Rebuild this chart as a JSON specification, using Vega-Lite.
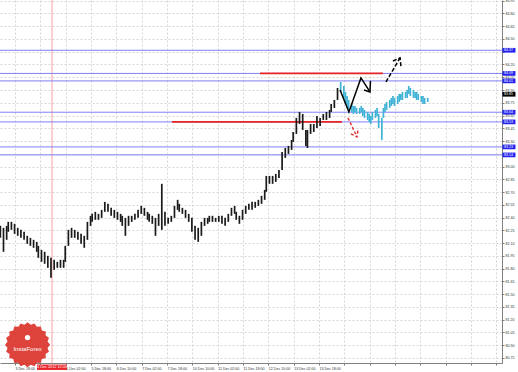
{
  "$schema": "https://vega.github.io/schema/vega-lite/v6.json",
  "width": 502,
  "height": 363,
  "autosize": {"type": "none"},
  "padding": {"left": 0, "top": 0, "right": 16, "bottom": 9},
  "background": "#ffffff",
  "config": {"view": {"stroke": null}, "font": "Liberation Sans"},
  "layer": [
    {
      "data": {"values": [{"b": 34.64}]},
      "mark": {"type": "rule", "color": "#f4a0a0", "strokeWidth": 1},
      "encoding": {
        "x": {"field": "b", "type": "quantitative",
          "scale": {"domain": [1.79, 318.9], "nice": false, "zero": false},
          "axis": {"title": null, "tickCount": 100,
            "values": [11.28,27.28,43.28,59.28,75.28,91.28,107.28,123.28,139.28,155.28,171.28,187.28,203.28,219.28,235.28,251.28,267.28,283.28,299.28,315.28],
            "labelExpr": "['','3 Dec 18:00','','5 Dec 02:00','5 Dec 18:00','6 Dec 10:00','7 Dec 02:00','7 Dec 18:00','10 Dec 10:00','11 Dec 02:00','11 Dec 18:00','12 Dec 10:00','13 Dec 02:00','13 Dec 18:00','','','','','','','',''][round((datum.value+4.72)/16)]",
            "labelAlign": "left", "labelBaseline": "top", "labelPadding": 1, "labelFontSize": 3.6, "labelColor": "#333",
            "tickSize": 2, "tickColor": "#777", "domainColor": "#808080",
            "grid": true, "gridColor": "#d6d6d6", "gridDash": [2, 2],
            "labelOverlap": false, "labelFlush": false, "labelBound": false}}
      }
    },
    {
      "data": {"values": [{"p": 84.367}, {"p": 84.095}, {"p": 84.007}, {"p": 83.639}, {"p": 83.525}, {"p": 83.231}, {"p": 83.137}]},
      "mark": {"type": "rule", "color": "#8080f6", "strokeWidth": 1},
      "encoding": {
        "y": {"field": "p", "type": "quantitative",
          "scale": {"domain": [80.691, 84.958], "nice": false, "zero": false},
          "axis": {"title": null, "orient": "right", "tickCount": 100,
            "values": [80.75,80.9,81.05,81.2,81.35,81.5,81.65,81.8,81.95,82.1,82.25,82.4,82.55,82.7,82.85,83.0,83.15,83.3,83.45,83.6,83.75,83.9,84.05,84.2,84.35,84.5,84.65,84.8,84.95],
            "labelExpr": "datum.value == 84.35 || datum.value == 83.15 ? '' : format(datum.value, '.2f')",
            "labelAlign": "left", "labelBaseline": "middle", "labelPadding": 1,
            "labelFontSize": 3.6, "labelColor": "#333", "tickSize": 2, "tickColor": "#777", "domainColor": "#808080",
            "grid": true, "gridColor": "#d6d6d6", "gridDash": [2, 2],
            "labelOverlap": false, "labelFlush": false, "labelBound": false}}
      }
    },
    {
      "data": {"values": [{"b": 166.0, "b2": 243.7, "p": 84.095}, {"b": 110.4, "b2": 217.8, "p": 83.525}]},
      "mark": {"type": "rule", "color": "#e62424", "strokeWidth": 1.6},
      "encoding": {
        "x": {"field": "b", "type": "quantitative", "scale": {"domain": [1.79, 318.9], "nice": false, "zero": false}},
        "x2": {"field": "b2"},
        "y": {"field": "p", "type": "quantitative", "scale": {"domain": [80.691, 84.958], "nice": false, "zero": false}}
      }
    },
    {
      "data": {"values": [
        {"b":2,"h":82.303,"l":82.162},{"b":4,"h":82.280,"l":81.998},{"b":6,"h":82.303,"l":82.139},{"b":7,"h":82.350,"l":82.233},
        {"b":9,"h":82.350,"l":82.256},{"b":11,"h":82.327,"l":82.209},{"b":13,"h":82.280,"l":82.186},{"b":15,"h":82.256,"l":82.162},
        {"b":17,"h":82.233,"l":82.139},{"b":19,"h":82.186,"l":82.092},{"b":21,"h":82.162,"l":82.068},{"b":23,"h":82.139,"l":82.045},
        {"b":25,"h":82.115,"l":81.998},{"b":26,"h":82.068,"l":81.927},{"b":28,"h":82.021,"l":81.880},{"b":30,"h":81.998,"l":81.857},
        {"b":32,"h":81.951,"l":81.810},{"b":34,"h":81.927,"l":81.692},{"b":36,"h":81.904,"l":81.786},{"b":38,"h":81.880,"l":81.810},
        {"b":40,"h":81.904,"l":81.810},{"b":42,"h":81.904,"l":81.810},{"b":43,"h":82.068,"l":81.880},{"b":45,"h":82.256,"l":82.068},
        {"b":47,"h":82.280,"l":82.162},{"b":49,"h":82.256,"l":82.162},{"b":51,"h":82.233,"l":82.139},{"b":53,"h":82.209,"l":82.092},
        {"b":55,"h":82.186,"l":82.045},{"b":57,"h":82.350,"l":82.139},{"b":59,"h":82.421,"l":82.303},{"b":60,"h":82.444,"l":82.350},
        {"b":62,"h":82.468,"l":82.374},{"b":64,"h":82.444,"l":82.374},{"b":66,"h":82.491,"l":82.397},{"b":68,"h":82.585,"l":82.468},
        {"b":70,"h":82.562,"l":82.468},{"b":72,"h":82.515,"l":82.421},{"b":74,"h":82.491,"l":82.397},{"b":76,"h":82.468,"l":82.374},
        {"b":78,"h":82.444,"l":82.350},{"b":79,"h":82.421,"l":82.303},{"b":81,"h":82.397,"l":82.186},{"b":83,"h":82.421,"l":82.303},
        {"b":85,"h":82.421,"l":82.350},{"b":87,"h":82.444,"l":82.374},{"b":89,"h":82.491,"l":82.397},{"b":91,"h":82.538,"l":82.444},
        {"b":93,"h":82.515,"l":82.421},{"b":95,"h":82.468,"l":82.374},{"b":96,"h":82.444,"l":82.350},{"b":98,"h":82.421,"l":82.327},
        {"b":100,"h":82.397,"l":82.186},{"b":102,"h":82.444,"l":82.303},{"b":104,"h":82.797,"l":82.256},{"b":106,"h":82.468,"l":82.303},
        {"b":108,"h":82.397,"l":82.327},{"b":110,"h":82.421,"l":82.350},{"b":112,"h":82.538,"l":82.397},{"b":114,"h":82.609,"l":82.491},
        {"b":115,"h":82.562,"l":82.468},{"b":117,"h":82.515,"l":82.444},{"b":119,"h":82.491,"l":82.397},{"b":121,"h":82.444,"l":82.350},
        {"b":123,"h":82.397,"l":82.233},{"b":125,"h":82.303,"l":82.139},{"b":127,"h":82.280,"l":82.115},{"b":129,"h":82.350,"l":82.186},
        {"b":131,"h":82.397,"l":82.303},{"b":133,"h":82.397,"l":82.327},{"b":134,"h":82.421,"l":82.350},{"b":136,"h":82.421,"l":82.350},
        {"b":138,"h":82.397,"l":82.350},{"b":140,"h":82.421,"l":82.350},{"b":142,"h":82.421,"l":82.327},{"b":144,"h":82.397,"l":82.303},
        {"b":146,"h":82.444,"l":82.350},{"b":148,"h":82.515,"l":82.421},{"b":150,"h":82.538,"l":82.444},{"b":151,"h":82.468,"l":82.374},
        {"b":153,"h":82.421,"l":82.327},{"b":155,"h":82.491,"l":82.374},{"b":157,"h":82.538,"l":82.444},{"b":159,"h":82.562,"l":82.491},
        {"b":161,"h":82.585,"l":82.491},{"b":163,"h":82.585,"l":82.515},{"b":165,"h":82.609,"l":82.538},{"b":167,"h":82.656,"l":82.562},
        {"b":169,"h":82.726,"l":82.609},{"b":170,"h":82.890,"l":82.703},{"b":172,"h":82.890,"l":82.797},{"b":174,"h":82.890,"l":82.797},
        {"b":176,"h":82.914,"l":82.820},{"b":178,"h":82.961,"l":82.867},{"b":180,"h":83.172,"l":82.961},{"b":182,"h":83.219,"l":83.102},
        {"b":184,"h":83.243,"l":83.149},{"b":186,"h":83.313,"l":83.196},{"b":187,"h":83.407,"l":83.290},{"b":189,"h":83.572,"l":83.384},
        {"b":191,"h":83.642,"l":83.501},{"b":193,"h":83.619,"l":83.431},{"b":195,"h":83.431,"l":83.243},{"b":196,"h":83.431,"l":83.219},
        {"b":198,"h":83.501,"l":83.384},{"b":200,"h":83.501,"l":83.407},{"b":202,"h":83.595,"l":83.454},{"b":204,"h":83.572,"l":83.478},
        {"b":206,"h":83.619,"l":83.548},{"b":208,"h":83.642,"l":83.548},{"b":210,"h":83.666,"l":83.572},{"b":211,"h":83.736,"l":83.642},
        {"b":213,"h":83.783,"l":83.689},{"b":215,"h":83.924,"l":83.783}
      ]},
      "mark": {"type": "rule", "color": "#1a1a1a", "strokeWidth": 1.7},
      "encoding": {
        "x": {"field": "b", "type": "quantitative", "scale": {"domain": [1.79, 318.9], "nice": false, "zero": false}},
        "y": {"field": "h", "type": "quantitative", "scale": {"domain": [80.691, 84.958], "nice": false, "zero": false}},
        "y2": {"field": "l"}
      }
    },
    {
      "data": {"values": [
        {"b":217,"h":83.995,"l":83.877},{"b":219,"h":83.948,"l":83.807},{"b":220,"h":83.877,"l":83.736},{"b":221,"h":83.830,"l":83.689},
        {"b":222,"h":83.783,"l":83.666},{"b":224,"h":83.736,"l":83.642},{"b":225,"h":83.713,"l":83.619},{"b":226,"h":83.713,"l":83.642},
        {"b":227,"h":83.689,"l":83.619},{"b":229,"h":83.689,"l":83.619},{"b":230,"h":83.713,"l":83.642},{"b":231,"h":83.689,"l":83.595},
        {"b":232,"h":83.666,"l":83.572},{"b":234,"h":83.642,"l":83.548},{"b":235,"h":83.619,"l":83.525},{"b":236,"h":83.595,"l":83.501},
        {"b":237,"h":83.642,"l":83.548},{"b":239,"h":83.666,"l":83.572},{"b":240,"h":83.689,"l":83.595},{"b":241,"h":83.619,"l":83.454},
        {"b":243,"h":83.572,"l":83.313},{"b":244,"h":83.689,"l":83.572},{"b":245,"h":83.736,"l":83.642},{"b":246,"h":83.760,"l":83.666},
        {"b":248,"h":83.783,"l":83.689},{"b":249,"h":83.807,"l":83.713},{"b":250,"h":83.830,"l":83.736},{"b":251,"h":83.807,"l":83.713},
        {"b":253,"h":83.830,"l":83.736},{"b":254,"h":83.854,"l":83.760},{"b":255,"h":83.854,"l":83.783},{"b":256,"h":83.877,"l":83.783},
        {"b":258,"h":83.877,"l":83.807},{"b":259,"h":83.901,"l":83.807},{"b":260,"h":83.948,"l":83.854},{"b":261,"h":83.924,"l":83.830},
        {"b":263,"h":83.901,"l":83.807},{"b":264,"h":83.877,"l":83.807},{"b":265,"h":83.877,"l":83.783},{"b":266,"h":83.854,"l":83.783},
        {"b":268,"h":83.830,"l":83.760},{"b":269,"h":83.830,"l":83.736},{"b":270,"h":83.807,"l":83.736},{"b":272,"h":83.807,"l":83.760}
      ]},
      "mark": {"type": "rule", "color": "#3fb3d6", "strokeWidth": 1.7},
      "encoding": {
        "x": {"field": "b", "type": "quantitative", "scale": {"domain": [1.79, 318.9], "nice": false, "zero": false}},
        "y": {"field": "h", "type": "quantitative", "scale": {"domain": [80.691, 84.958], "nice": false, "zero": false}},
        "y2": {"field": "l"}
      }
    },
    {
      "data": {"values": [
        {"s":1,"o":1,"b":216.6,"p":83.901},{"s":1,"o":2,"b":222.2,"p":83.642},{"s":1,"o":3,"b":229.8,"p":84.042},{"s":1,"o":4,"b":235.5,"p":83.877},
        {"s":2,"o":1,"b":235.8,"p":84.007},{"s":2,"o":2,"b":235.5,"p":83.877},{"s":2,"o":3,"b":231.7,"p":83.901}
      ]},
      "mark": {"type": "line", "color": "#000000", "strokeWidth": 1.5},
      "encoding": {
        "x": {"field": "b", "type": "quantitative", "scale": {"domain": [1.79, 318.9], "nice": false, "zero": false}},
        "y": {"field": "p", "type": "quantitative", "scale": {"domain": [80.691, 84.958], "nice": false, "zero": false}},
        "detail": {"field": "s"},
        "order": {"field": "o"}
      }
    },
    {
      "data": {"values": [
        {"s":1,"o":1,"b":245.6,"p":83.995},{"s":1,"o":2,"b":254.5,"p":84.277},
        {"s":2,"o":1,"b":250.0,"p":84.241},{"s":2,"o":2,"b":254.5,"p":84.277},{"s":2,"o":3,"b":255.1,"p":84.171}
      ]},
      "mark": {"type": "line", "color": "#000000", "strokeWidth": 1.5, "strokeDash": [4, 2]},
      "encoding": {
        "x": {"field": "b", "type": "quantitative", "scale": {"domain": [1.79, 318.9], "nice": false, "zero": false}},
        "y": {"field": "p", "type": "quantitative", "scale": {"domain": [80.691, 84.958], "nice": false, "zero": false}},
        "detail": {"field": "s"},
        "order": {"field": "o"}
      }
    },
    {
      "data": {"values": [
        {"s":1,"o":1,"b":221.6,"p":83.572},{"s":1,"o":2,"b":227.3,"p":83.349},
        {"s":2,"o":1,"b":223.5,"p":83.384},{"s":2,"o":2,"b":227.3,"p":83.349},{"s":2,"o":3,"b":228.0,"p":83.443}
      ]},
      "mark": {"type": "line", "color": "#e03030", "strokeWidth": 1.4, "strokeDash": [3, 2]},
      "encoding": {
        "x": {"field": "b", "type": "quantitative", "scale": {"domain": [1.79, 318.9], "nice": false, "zero": false}},
        "y": {"field": "p", "type": "quantitative", "scale": {"domain": [80.691, 84.958], "nice": false, "zero": false}},
        "detail": {"field": "s"},
        "order": {"field": "o"}
      }
    },
    {
      "data": {"values": [
        {"p": 84.367, "k": "level"}, {"p": 84.095, "k": "level"}, {"p": 84.007, "k": "level"}, {"p": 83.85, "k": "now"},
        {"p": 83.639, "k": "level"}, {"p": 83.525, "k": "level"}, {"p": 83.231, "k": "level"}, {"p": 83.137, "k": "level"}
      ]},
      "layer": [
        {
          "mark": {"type": "point", "shape": "M-1,-0.36L1,-0.36L1,0.36L-1,0.36Z", "filled": true, "size": 169, "opacity": 1, "strokeWidth": 0},
          "encoding": {
            "x": {"datum": 323.3, "type": "quantitative", "scale": {"domain": [1.79, 318.9], "nice": false, "zero": false}},
            "y": {"field": "p", "type": "quantitative", "scale": {"domain": [80.691, 84.958], "nice": false, "zero": false}},
            "color": {"condition": {"test": "datum.k == 'now'", "value": "#000000"}, "value": "#2424ee"}
          }
        },
        {
          "mark": {"type": "text", "align": "left", "baseline": "middle", "fontSize": 3.6, "color": "#ffffff"},
          "encoding": {
            "x": {"datum": 320.1, "type": "quantitative", "scale": {"domain": [1.79, 318.9], "nice": false, "zero": false}},
            "y": {"field": "p", "type": "quantitative", "scale": {"domain": [80.691, 84.958], "nice": false, "zero": false}},
            "text": {"field": "p", "type": "quantitative", "format": ".2f"}
          }
        }
      ]
    },
    {
      "data": {"values": [{"t": "4 Dec 2012 12:00", "b": 34.64, "p": 80.641}]},
      "layer": [
        {
          "mark": {"type": "point", "shape": "M-1,-0.18L1,-0.18L1,0.18L-1,0.18Z", "filled": true, "size": 900, "color": "#e8262a", "opacity": 1, "strokeWidth": 0},
          "encoding": {
            "x": {"field": "b", "type": "quantitative", "scale": {"domain": [1.79, 318.9], "nice": false, "zero": false}},
            "y": {"field": "p", "type": "quantitative", "scale": {"domain": [80.691, 84.958], "nice": false, "zero": false}}
          }
        },
        {
          "mark": {"type": "text", "align": "center", "baseline": "middle", "fontSize": 3.8, "color": "#ffffff"},
          "encoding": {
            "x": {"field": "b", "type": "quantitative", "scale": {"domain": [1.79, 318.9], "nice": false, "zero": false}},
            "y": {"field": "p", "type": "quantitative", "scale": {"domain": [80.691, 84.958], "nice": false, "zero": false}},
            "text": {"field": "t"}
          }
        }
      ]
    },
    {
      "data": {"values": [{"name": "InstaForex", "b": 19.2, "p": 80.905, "pi": 80.99, "pt": 80.85}]},
      "layer": [
        {
          "mark": {"type": "point", "shape": "M1,0L0.889,0.141L0.951,0.309L0.802,0.409L0.809,0.588L0.636,0.636L0.588,0.809L0.409,0.802L0.309,0.951L0.141,0.889L0,1L-0.141,0.889L-0.309,0.951L-0.409,0.802L-0.588,0.809L-0.636,0.636L-0.809,0.588L-0.802,0.409L-0.951,0.309L-0.889,0.141L-1,0L-0.889,-0.141L-0.951,-0.309L-0.802,-0.409L-0.809,-0.588L-0.636,-0.636L-0.588,-0.809L-0.409,-0.802L-0.309,-0.951L-0.141,-0.889L0,-1L0.141,-0.889L0.309,-0.951L0.409,-0.802L0.588,-0.809L0.636,-0.636L0.809,-0.588L0.802,-0.409L0.951,-0.309L0.889,-0.141Z",
            "filled": true, "size": 2025, "color": "#dc3a32", "opacity": 0.95, "strokeWidth": 0},
          "encoding": {
            "x": {"field": "b", "type": "quantitative", "scale": {"domain": [1.79, 318.9], "nice": false, "zero": false}},
            "y": {"field": "p", "type": "quantitative", "scale": {"domain": [80.691, 84.958], "nice": false, "zero": false}}
          }
        },
        {
          "mark": {"type": "point", "shape": "circle", "filled": true, "size": 28, "color": "#ffffff", "opacity": 1},
          "encoding": {
            "x": {"field": "b", "type": "quantitative", "scale": {"domain": [1.79, 318.9], "nice": false, "zero": false}},
            "y": {"field": "pi", "type": "quantitative", "scale": {"domain": [80.691, 84.958], "nice": false, "zero": false}}
          }
        },
        {
          "mark": {"type": "text", "align": "center", "baseline": "middle", "fontSize": 6, "color": "#ffffff"},
          "encoding": {
            "x": {"field": "b", "type": "quantitative", "scale": {"domain": [1.79, 318.9], "nice": false, "zero": false}},
            "y": {"field": "pt", "type": "quantitative", "scale": {"domain": [80.691, 84.958], "nice": false, "zero": false}},
            "text": {"field": "name"}
          }
        }
      ]
    }
  ]
}
